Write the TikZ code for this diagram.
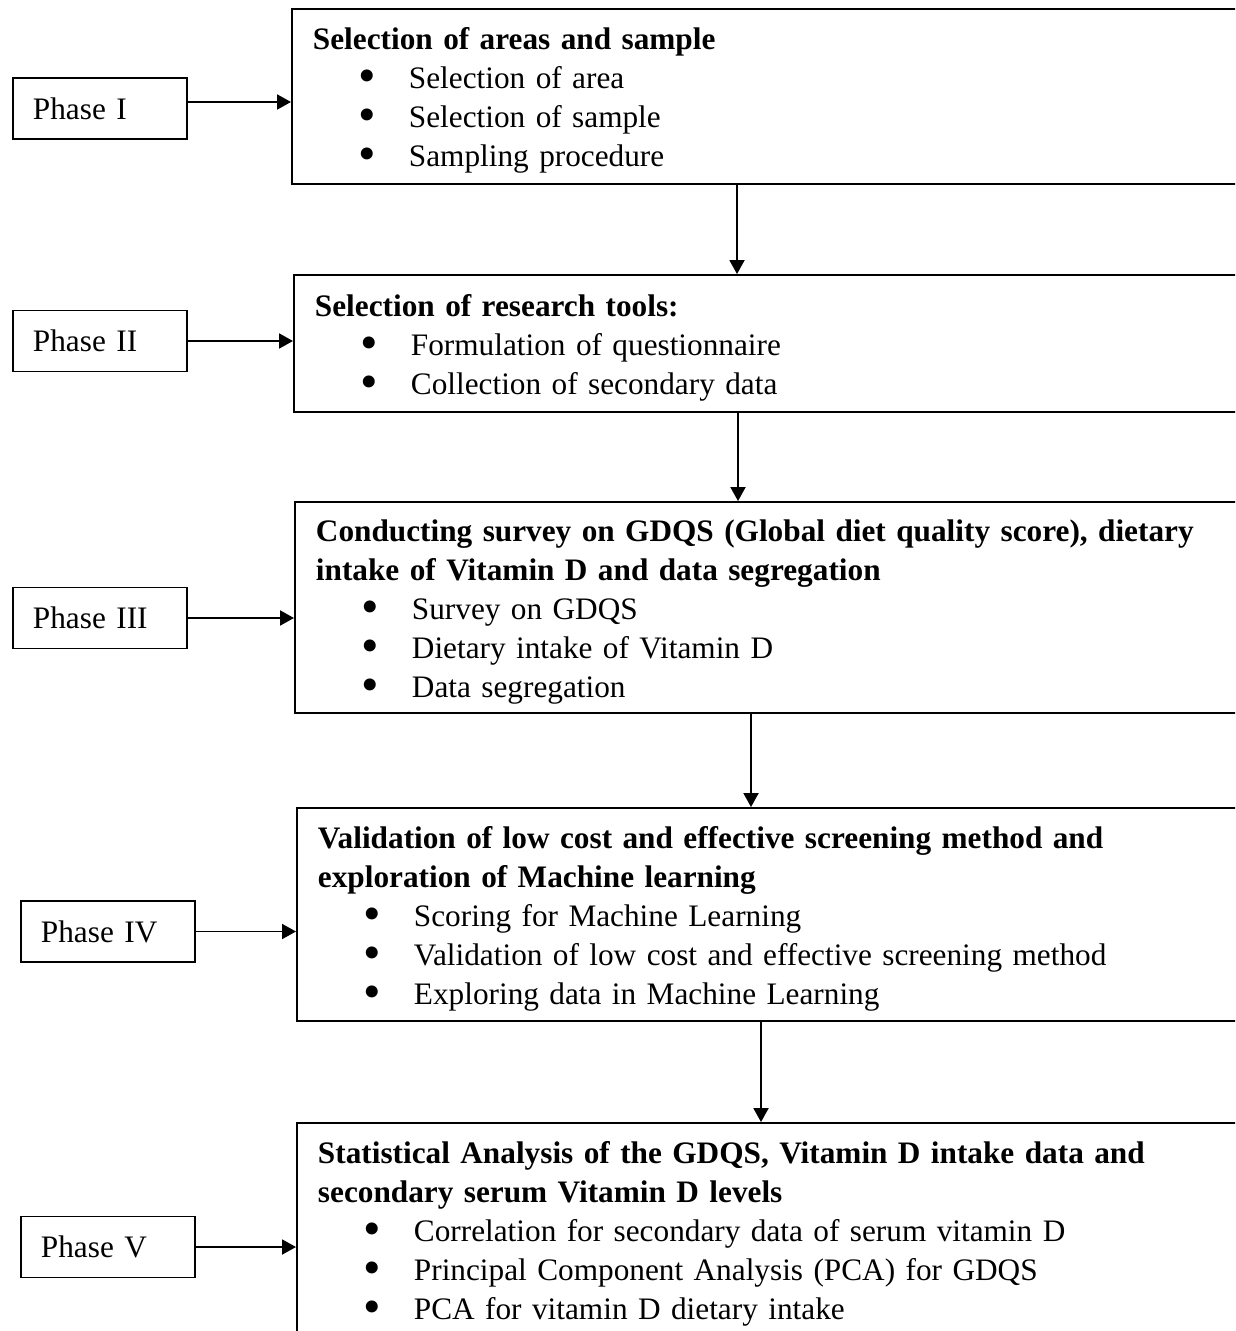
\documentclass[tikz,border=0pt]{standalone}
\usepackage{fontspec}
\usepackage{graphicx}
\setmainfont{Liberation Serif}
\usetikzlibrary{arrows.meta}
\tikzset{
  phase/.style={draw, line width=1.1pt, text width=2.68cm, inner xsep=0.4cm,
    minimum height=1.22cm, align=left, anchor=west,
    font=\fontsize{17.8}{22.2}\selectfont},
  stage/.style={draw, line width=1.1pt, text width=18.4cm, inner xsep=0.42cm,
    align=left, anchor=west, font=\fontsize{17.8}{22.2}\selectfont,
    execute at begin node=\rule{0pt}{0.61cm}}
}
\newcommand{\bitem}[1]{\hspace*{0.92cm}\makebox[1.0cm][l]{\smash{\raisebox{-0.13em}{\scalebox{1.6}{\textbullet}}}}#1}
\begin{document}
\begin{tikzpicture}[x=0.02cm,y=-0.02cm]
    \useasboundingbox (0,0) rectangle (1235,1331);
    \clip (0,0) rectangle (1235,1331);
    \coordinate (a1) at (737,0);
    \coordinate (a2) at (738,0);
    \coordinate (a3) at (751,0);
    \coordinate (a4) at (761,0);
    \node[phase] (p1) at (12,108.5) {Phase I};
    \node[phase] (p2) at (12,341) {Phase II};
    \node[phase] (p3) at (12,618) {Phase III};
    \node[phase] (p4) at (20,931.5) {Phase IV};
    \node[phase] (p5) at (20,1247) {Phase V};
    \node[stage, minimum height=3.5cm] (s1) at (291,96.5)
      {\textbf{Selection of areas and sample}\\
       \bitem{Selection of area}\\
       \bitem{Selection of sample}\\
       \bitem{Sampling procedure}};
    \node[stage, minimum height=2.74cm] (s2) at (293,343.5)
      {\textbf{Selection of research tools:}\\
       \bitem{Formulation of questionnaire}\\
       \bitem{Collection of secondary data}};
    \node[stage, minimum height=4.22cm] (s3) at (294,607.5)
      {\textbf{Conducting survey on GDQS (Global diet quality score), dietary}\\
       \textbf{intake of Vitamin D and data segregation}\\
       \bitem{Survey on GDQS}\\
       \bitem{Dietary intake of Vitamin D}\\
       \bitem{Data segregation}};
    \node[stage, minimum height=4.26cm] (s4) at (296,914.5)
      {\textbf{Validation of low cost and effective screening method and}\\
       \textbf{exploration of Machine learning}\\
       \bitem{Scoring for Machine Learning}\\
       \bitem{Validation of low cost and effective screening method}\\
       \bitem{Exploring data in Machine Learning}};
    \node[stage, minimum height=4.26cm] (s5) at (296,1229.5)
      {\textbf{Statistical Analysis of the GDQS, Vitamin D intake data and}\\
       \textbf{secondary serum Vitamin D levels}\\
       \bitem{Correlation for secondary data of serum vitamin D}\\
       \bitem{Principal Component Analysis (PCA) for GDQS}\\
       \bitem{PCA for vitamin D dietary intake}};
    \begin{scope}[-{Triangle[length=0.28cm,width=0.3cm]}, line width=1.1pt]
      \draw ([yshift=0.13cm]p1.east) -- ([yshift=0.13cm]p1.east -| s1.west);
      \draw (p2.east) -- (p2.east -| s2.west);
      \draw (p3.east) -- (p3.east -| s3.west);
      \draw (p4.east) -- (p4.east -| s4.west);
      \draw (p5.east) -- (p5.east -| s5.west);
      \draw (s1.south -| a1) -- (s2.north -| a1);
      \draw (s2.south -| a2) -- (s3.north -| a2);
      \draw (s3.south -| a3) -- (s4.north -| a3);
      \draw (s4.south -| a4) -- (s5.north -| a4);
    \end{scope}
  \end{tikzpicture}
\end{document}
